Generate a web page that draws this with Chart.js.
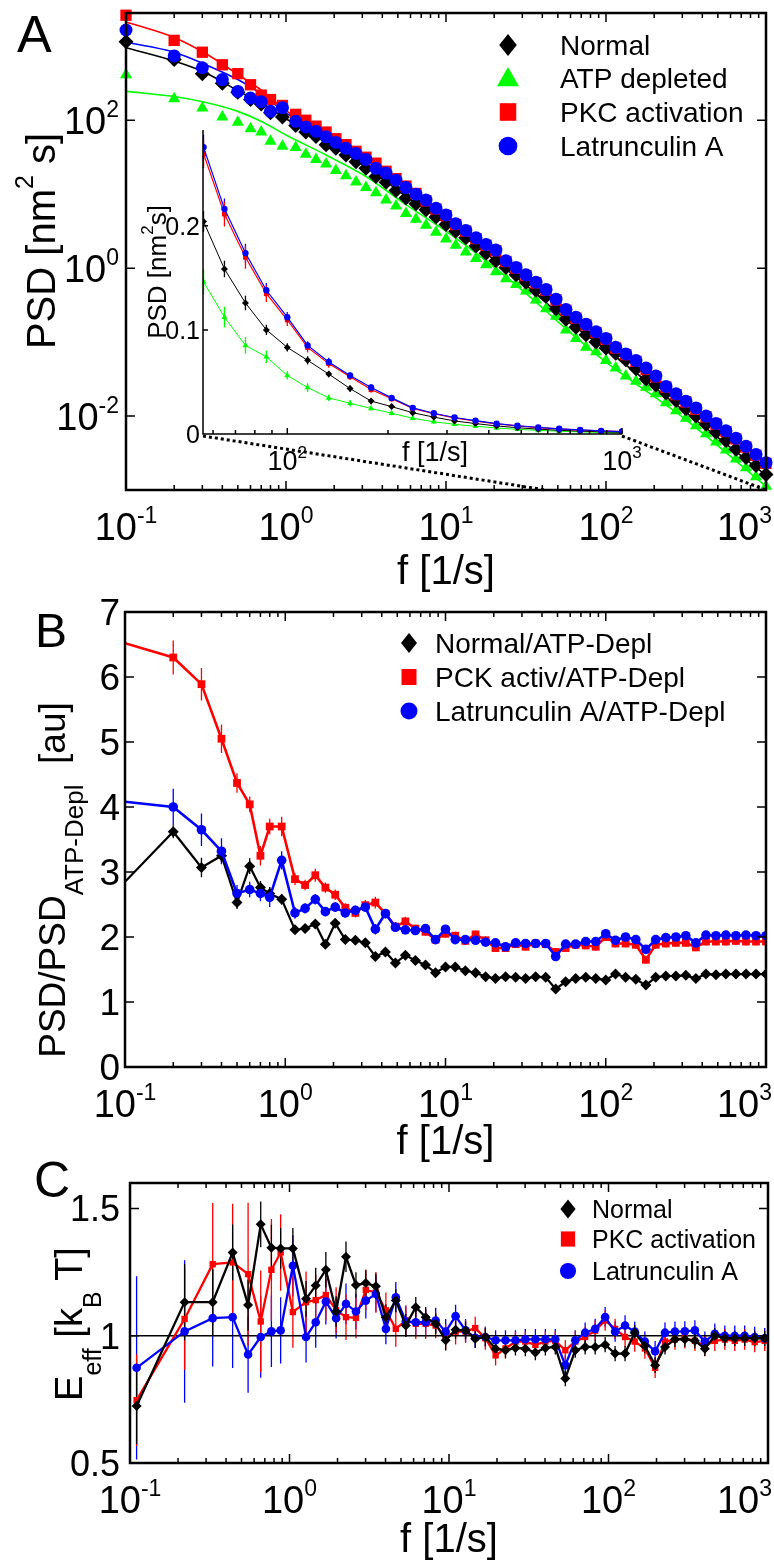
<!DOCTYPE html>
<html>
<head>
<meta charset="utf-8">
<script src="https://cdn.jsdelivr.net/npm/chart.js@4.4.1/dist/chart.umd.min.js"></script>
<style>
  body { margin: 0; background: #fff; }
  #wrap { position: relative; width: 774px; height: 1563px; }
  #wrap canvas { position: absolute; left: 0; top: 0; }
</style>
</head>
<body>
<div id="wrap">
  <canvas id="cA" width="774" height="1563"></canvas>
  <canvas id="cIn" width="774" height="1563"></canvas>
  <canvas id="cB" width="774" height="1563"></canvas>
  <canvas id="cC" width="774" height="1563"></canvas>
</div>
<script>
// ---------- data ----------
// frequencies [1/s] of the spectra (panels A and B)
const freq = [0.1, 0.2, 0.3, 0.4, 0.5, 0.6, 0.7, 0.8, 0.95,
  1.15, 1.33, 1.54, 1.78, 2.05, 2.37, 2.74, 3.16, 3.65, 4.22, 4.87, 5.62, 6.49, 7.50, 8.66, 10.0,
  11.5, 13.3, 15.4, 17.8, 20.5, 23.7, 27.4, 31.6, 36.5, 42.2, 48.7, 56.2, 64.9, 75.0, 86.6, 100,
  115, 133, 154, 178, 205, 237, 274, 316, 365, 422, 487, 562, 649, 750, 866, 1000];

// panel A: log10 of PSD [nm^2 s] (and the inset for f > 56)
const normalLog = [3.06, 2.82, 2.63, 2.50, 2.38, 2.28, 2.22, 2.10, 2.045,
  1.93, 1.84, 1.78, 1.67, 1.62, 1.53, 1.44, 1.35, 1.24, 1.16, 1.05, 0.95, 0.87, 0.79, 0.69, 0.59,
  0.50, 0.41, 0.30, 0.20, 0.10, 0.01, -0.09, -0.19, -0.30, -0.38, -0.55, -0.69, -0.80, -0.90, -1.00, -1.08,
  -1.15, -1.24, -1.36, -1.50, -1.58, -1.69, -1.79, -1.90, -2.00, -2.11, -2.22, -2.33, -2.45, -2.56, -2.67, -2.79];
const atpLog = [2.615, 2.29, 2.167, 2.045, 1.973, 1.884, 1.84, 1.717, 1.65,
  1.63, 1.54, 1.47, 1.41, 1.32, 1.25, 1.165, 1.09, 1.02, 0.92, 0.84, 0.74, 0.66, 0.58, 0.485, 0.395,
  0.31, 0.22, 0.13, 0.045, -0.05, -0.145, -0.22, -0.31, -0.43, -0.55, -0.65, -0.835, -0.95, -1.07, -1.13, -1.25,
  -1.35, -1.46, -1.53, -1.61, -1.70, -1.82, -1.93, -2.03, -2.13, -2.24, -2.35, -2.46, -2.58, -2.70, -2.82, -2.95];
const pkcLog = [3.42, 3.08, 2.92, 2.75, 2.63, 2.48, 2.34, 2.28, 2.20,
  2.08, 2.00, 1.92, 1.84, 1.75, 1.67, 1.58, 1.50, 1.42, 1.31, 1.21, 1.11, 1.01, 0.91, 0.80, 0.71,
  0.59, 0.50, 0.40, 0.31, 0.235, 0.09, 0.00, -0.10, -0.20, -0.30, -0.43, -0.57, -0.675, -0.77, -0.87, -0.96,
  -1.08, -1.17, -1.26, -1.37, -1.47, -1.61, -1.71, -1.81, -1.91, -2.01, -2.11, -2.21, -2.31, -2.42, -2.53, -2.64];
const latLog = [3.22, 2.87, 2.71, 2.55, 2.39, 2.30, 2.25, 2.12, 2.17,
  1.985, 1.91, 1.85, 1.776, 1.70, 1.62, 1.55, 1.47, 1.35, 1.285, 1.19, 1.09, 1.00, 0.92, 0.81, 0.72,
  0.60, 0.51, 0.41, 0.32, 0.245, 0.10, 0.01, -0.09, -0.19, -0.29, -0.42, -0.56, -0.665, -0.76, -0.86, -0.95,
  -1.07, -1.16, -1.25, -1.35, -1.46, -1.60, -1.70, -1.80, -1.89, -2.00, -2.10, -2.20, -2.30, -2.41, -2.52, -2.63];

// panel A fit curves (log10 PSD)
const fitFreq = [0.1, 0.2, 0.316, 0.5, 0.708, 1, 1.78, 3.16, 5.62, 10, 17.8, 31.6, 56.2, 100, 316, 1000];
const normalFitLog = [2.98, 2.80, 2.64, 2.40, 2.22, 2.02, 1.70, 1.37, 0.97, 0.60, 0.20, -0.23, -0.70, -1.10, -1.95, -2.80];
const atpFitLog = [2.39, 2.32, 2.24, 2.12, 1.98, 1.80, 1.53, 1.24, 0.86, 0.50, 0.10, -0.34, -0.82, -1.27, -2.05, -2.95];
const pkcFitLog = [3.33, 3.12, 2.90, 2.62, 2.40, 2.13, 1.81, 1.48, 1.10, 0.71, 0.29, -0.12, -0.56, -0.97, -1.82, -2.65];
const latFitLog = [3.055, 2.92, 2.75, 2.55, 2.35, 2.10, 1.80, 1.48, 1.10, 0.72, 0.30, -0.11, -0.55, -0.96, -1.81, -2.64];

// inset: the same spectra above 56 1/s on a linear axis, with error bars
const insetFrom = 36;
const insetErrNormal = [0.010, 0.008, 0.007, 0.005, 0.004, 0.004, 0.003, 0.003, 0.003, 0.002, 0.002, 0.002, 0.002, 0.002, 0.002, 0.001, 0.001, 0.001, 0.001, 0.001, 0.001];
const insetErrAtp = [0.012, 0.010, 0.008, 0.006, 0.004, 0.004, 0.003, 0.003, 0.002, 0.002, 0.002, 0.002, 0.002, 0.001, 0.001, 0.001, 0.001, 0.001, 0.001, 0.001, 0.001];
const insetErrPkc = [0.014, 0.012, 0.011, 0.008, 0.006, 0.005, 0.004, 0.003, 0.003, 0.003, 0.002, 0.002, 0.002, 0.002, 0.002, 0.002, 0.001, 0.001, 0.001, 0.001, 0.001];
const insetErrLat = [0.012, 0.010, 0.009, 0.007, 0.005, 0.004, 0.004, 0.003, 0.003, 0.002, 0.002, 0.002, 0.002, 0.002, 0.002, 0.001, 0.001, 0.001, 0.001, 0.001, 0.001];
const zoomLinkF = [42, 1000];

// panel B: PSD ratios to the ATP-depleted spectrum
const normRatio = [2.85, 3.62, 3.07, 3.25, 2.53, 3.09, 2.76, 2.67, 2.58,
  2.11, 2.13, 2.20, 1.89, 2.21, 1.96, 1.95, 1.91, 1.70, 1.77, 1.60, 1.72, 1.64, 1.57, 1.45, 1.54,
  1.54, 1.48, 1.45, 1.39, 1.36, 1.39, 1.38, 1.36, 1.39, 1.38, 1.20, 1.31, 1.36, 1.38, 1.36, 1.34,
  1.43, 1.38, 1.35, 1.26, 1.38, 1.40, 1.40, 1.41, 1.36, 1.43, 1.42, 1.43, 1.43, 1.43, 1.43, 1.43];
const pkcRatio = [6.52, 6.30, 5.89, 5.05, 4.37, 4.04, 3.25, 3.70, 3.70,
  2.89, 2.80, 2.95, 2.76, 2.65, 2.45, 2.37, 2.49, 2.53, 2.36, 2.16, 2.24, 2.13, 2.08, 1.96, 2.05,
  2.02, 1.94, 2.04, 1.95, 1.83, 1.83, 1.89, 1.85, 1.90, 1.89, 1.77, 1.83, 1.88, 1.87, 1.85, 2.00,
  1.90, 1.90, 1.88, 1.65, 1.88, 1.90, 1.91, 1.91, 1.84, 1.93, 1.93, 1.93, 1.94, 1.93, 1.93, 1.93];
const latRatio = [4.08, 4.00, 3.65, 3.32, 2.67, 2.73, 2.67, 2.61, 3.18,
  2.37, 2.44, 2.58, 2.39, 2.46, 2.37, 2.41, 2.46, 2.12, 2.36, 2.15, 2.11, 2.10, 2.13, 1.96, 2.12,
  1.96, 1.96, 1.95, 1.92, 1.91, 1.85, 1.91, 1.90, 1.90, 1.90, 1.70, 1.89, 1.89, 1.93, 1.93, 2.05,
  1.95, 2.00, 1.96, 1.81, 1.96, 1.99, 2.00, 2.02, 1.91, 2.03, 2.02, 2.03, 2.02, 2.03, 2.02, 2.02];
const normRatioErr = [0, 0.10, 0.15, 0.10, 0.10, 0.12, 0.10, 0.10, 0.08,
  0.06, 0.06, 0.06, 0.06, 0.06, 0.05, 0.05, 0.05, 0.05, 0.05, 0.05, 0.05, 0.04, 0.04, 0.04, 0.04,
  0.04, 0.04, 0.04, 0.04, 0.04, 0.04, 0.04, 0.04, 0.04, 0.04, 0.04, 0.04, 0.04, 0.04, 0.04, 0.04,
  0.04, 0.04, 0.04, 0.04, 0.04, 0.04, 0.04, 0.04, 0.04, 0.04, 0.04, 0.04, 0.04, 0.04, 0.04, 0.04];
const pkcRatioErr = [0, 0.26, 0.25, 0.22, 0.15, 0.12, 0.15, 0.12, 0.15,
  0.09, 0.08, 0.10, 0.08, 0.08, 0.07, 0.07, 0.08, 0.09, 0.07, 0.07, 0.07, 0.06, 0.06, 0.06, 0.06,
  0.06, 0.06, 0.06, 0.06, 0.06, 0.06, 0.06, 0.06, 0.06, 0.06, 0.06, 0.06, 0.06, 0.06, 0.06, 0.06,
  0.06, 0.06, 0.06, 0.06, 0.06, 0.06, 0.06, 0.06, 0.06, 0.06, 0.06, 0.06, 0.06, 0.06, 0.06, 0.06];
const latRatioErr = [0, 0.28, 0.25, 0.20, 0.13, 0.12, 0.12, 0.15, 0.14,
  0.09, 0.08, 0.08, 0.07, 0.07, 0.07, 0.07, 0.07, 0.08, 0.07, 0.06, 0.06, 0.06, 0.06, 0.06, 0.06,
  0.05, 0.05, 0.05, 0.05, 0.05, 0.05, 0.05, 0.05, 0.05, 0.05, 0.05, 0.05, 0.05, 0.05, 0.05, 0.05,
  0.05, 0.05, 0.05, 0.05, 0.05, 0.05, 0.05, 0.05, 0.05, 0.05, 0.05, 0.05, 0.05, 0.05, 0.05, 0.05];

// panel C: effective energy [kB T]
const freqC = [0.11, 0.22, 0.33, 0.44, 0.55, 0.66, 0.77, 0.88, 1.05,
  1.27, 1.46, 1.69, 1.96, 2.26, 2.61, 3.01, 3.48, 4.02, 4.64, 5.36, 6.19, 7.14, 8.25, 9.53, 11.0,
  12.7, 14.6, 16.9, 19.6, 22.6, 26.1, 30.1, 34.8, 40.2, 46.4, 53.6, 61.9, 71.4, 82.5, 95.3, 110,
  127, 146, 169, 196, 226, 261, 301, 348, 402, 464, 536, 619, 714, 825, 953];
const normE = [0.724, 1.132, 1.132, 1.327, 1.121, 1.4375, 1.346, 1.343, 1.343,
  1.145, 1.197, 1.259, 1.095, 1.31, 1.199, 1.207, 1.194, 1.073, 1.138, 1.04, 1.112, 1.073, 1.047, 0.982, 1.023,
  1.021, 0.988, 0.995, 0.949, 0.943, 0.952, 0.949, 0.934, 0.952, 0.956, 0.832, 0.943, 0.956, 0.956, 0.965, 0.93,
  0.93, 1.012, 0.96, 0.884, 0.956, 0.986, 0.986, 0.98, 0.949, 1.0, 0.99, 0.99, 0.99, 0.99, 0.99];
const pkcE = [0.747, 1.066, 1.281, 1.288, 1.242, 1.056, 1.259, 1.327, 1.093,
  1.132, 1.14, 1.16, 1.10, 1.073, 1.07, 1.18, 1.17, 1.10, 1.027, 1.06, 1.047, 1.047, 1.04, 0.995, 1.016,
  1.016, 1.03, 0.99, 0.923, 0.95, 0.977, 0.977, 0.964, 0.977, 0.98, 0.943, 0.977, 0.995, 1.02, 1.06, 1.027,
  0.995, 0.977, 0.95, 0.874, 0.977, 0.985, 0.99, 0.98, 0.96, 0.98, 0.985, 0.98, 0.985, 0.975, 0.98];
const latE = [0.874, 1.017, 1.069, 1.073, 0.926, 0.995, 1.017, 1.021, 1.275,
  0.995, 1.053, 1.134, 1.069, 1.125, 1.095, 1.138, 1.164, 1.027, 1.151, 1.056, 1.053, 1.053, 1.06, 1.016, 1.077,
  1.021, 0.992, 0.995, 0.982, 0.982, 0.982, 0.986, 0.986, 0.986, 0.986, 0.884, 0.982, 1.012, 1.027, 1.073, 1.016,
  1.04, 1.016, 0.977, 0.939, 1.012, 1.016, 1.017, 1.021, 0.977, 1.008, 1.0, 1.0, 1.0, 0.995, 0.99];
const normEErr = [0.15, 0.15, 0.13, 0.11, 0.10, 0.09, 0.09, 0.08, 0.08,
  0.07, 0.07, 0.07, 0.06, 0.06, 0.05, 0.05, 0.05, 0.05, 0.045, 0.045, 0.04, 0.04, 0.04, 0.04, 0.035,
  0.035, 0.035, 0.035, 0.03, 0.03, 0.03, 0.03, 0.03, 0.03, 0.03, 0.03, 0.03, 0.03, 0.03, 0.03, 0.03,
  0.03, 0.03, 0.03, 0.03, 0.03, 0.03, 0.03, 0.03, 0.03, 0.03, 0.03, 0.03, 0.03, 0.03, 0.03];
const pkcEErr = [0.18, 0.20, 0.24, 0.23, 0.28, 0.20, 0.20, 0.15, 0.14,
  0.12, 0.10, 0.10, 0.09, 0.09, 0.08, 0.08, 0.08, 0.07, 0.07, 0.06, 0.06, 0.06, 0.05, 0.05, 0.05,
  0.045, 0.045, 0.045, 0.04, 0.04, 0.04, 0.04, 0.04, 0.04, 0.04, 0.04, 0.04, 0.04, 0.04, 0.04, 0.04,
  0.04, 0.04, 0.04, 0.04, 0.04, 0.04, 0.04, 0.04, 0.04, 0.04, 0.04, 0.04, 0.04, 0.04, 0.04];
const latEErr = [0.36, 0.28, 0.19, 0.20, 0.15, 0.16, 0.14, 0.13, 0.12,
  0.10, 0.10, 0.09, 0.08, 0.08, 0.07, 0.07, 0.07, 0.06, 0.06, 0.06, 0.05, 0.05, 0.05, 0.05, 0.045,
  0.045, 0.04, 0.04, 0.04, 0.04, 0.04, 0.04, 0.04, 0.04, 0.04, 0.04, 0.04, 0.04, 0.04, 0.04, 0.04,
  0.04, 0.04, 0.04, 0.04, 0.04, 0.04, 0.04, 0.04, 0.04, 0.04, 0.04, 0.04, 0.04, 0.04, 0.04];

// tick labels
const decadeTicks = [0.1, 1, 10, 100, 1000];
const decadeExp = ['-1', '0', '1', '2', '3'];
const psdTicks = [0.01, 1, 100];
const psdExp = ['-2', '0', '2'];
const ratioTicks = [0, 1, 2, 3, 4, 5, 6, 7];
const effTicks = [0.5, 1, 1.5];
const effLabels = ['0.5', '1', '1.5'];
const insetYTicks = [0, 0.1, 0.2];
const insetYLabels = ['0', '0.1', '0.2'];
const insetXTicks = [100, 1000];
const insetXExp = ['2', '3'];

const seriesA = ['Normal', 'ATP depleted', 'PKC activation', 'Latrunculin A'];
const seriesB = ['Normal/ATP-Depl', 'PCK activ/ATP-Depl', 'Latrunculin A/ATP-Depl'];
const seriesC = ['Normal', 'PKC activation', 'Latrunculin A'];

// ---------- helpers ----------
const BLACK = '#000000', GREEN = '#00ff00', RED = '#ff0000', BLUE = '#0000ff';
const FAM = '"Liberation Sans", Arial, Helvetica, sans-serif';
const font = px => px + 'px ' + FAM;

const minorTicks = [];
[0.1, 1, 10, 100].forEach(d => { for (let m = 2; m <= 9; m++) minorTicks.push(m * d); });

function pts(xs, ys) { return xs.map((x, i) => ({ x: x, y: ys[i] })); }
function logPts(xs, ys) { return xs.map((x, i) => ({ x: x, y: Math.pow(10, ys[i]) })); }

// text made of pieces [text, size, shift]; shift > 0 moves down (subscript)
function rich(ctx, pieces, x, y, align) {
  let w = 0;
  pieces.forEach(p => { ctx.font = font(p[1]); w += ctx.measureText(p[0]).width; });
  let cx = align === 'center' ? x - w / 2 : align === 'right' ? x - w : x;
  pieces.forEach(p => {
    ctx.font = font(p[1]);
    ctx.fillText(p[0], cx, y + (p[2] || 0));
    cx += ctx.measureText(p[0]).width;
  });
  return w;
}
function richWidth(ctx, pieces) {
  let w = 0;
  pieces.forEach(p => { ctx.font = font(p[1]); w += ctx.measureText(p[0]).width; });
  return w;
}
function rotated(ctx, pieces, x, cy) {
  ctx.save();
  ctx.translate(x, cy);
  ctx.rotate(-Math.PI / 2);
  rich(ctx, pieces, 0, 0, 'center');
  ctx.restore();
}

function marker(ctx, style, x, y, r, color) {
  ctx.fillStyle = color;
  ctx.beginPath();
  if (style === 'circle') ctx.arc(x, y, r * 0.85, 0, Math.PI * 2);
  else if (style === 'rect') ctx.rect(x - r * 0.75, y - r * 0.8, r * 1.5, r * 1.6);
  else if (style === 'rectRot') {
    ctx.moveTo(x, y - r); ctx.lineTo(x + r * 0.8, y); ctx.lineTo(x, y + r); ctx.lineTo(x - r * 0.8, y);
  } else if (style === 'triangle') {
    ctx.moveTo(x, y - r); ctx.lineTo(x + r, y + r * 0.75); ctx.lineTo(x - r, y + r * 0.75);
  }
  ctx.closePath();
  ctx.fill();
}

function legend(chart, idx, mx, tx, ys, size, r) {
  const ctx = chart.ctx;
  ctx.save();
  idx.forEach((di, i) => {
    const ds = chart.data.datasets[di];
    marker(ctx, ds.pointStyle, mx, ys[i], r, ds.borderColor);
    ctx.fillStyle = '#000';
    ctx.font = font(size);
    ctx.textBaseline = 'alphabetic';
    ctx.fillText(ds.label, tx, ys[i] + size * 0.36);
  });
  ctx.restore();
}

function frame(chart, xMajor, xMinor, yMajor) {
  const ctx = chart.ctx, a = chart.chartArea, xs = chart.scales.x, ys = chart.scales.y;
  ctx.save();
  ctx.strokeStyle = '#000';
  ctx.lineWidth = 1.5;
  ctx.beginPath();
  xMajor.forEach(v => {
    const p = xs.getPixelForValue(v);
    ctx.moveTo(p, a.bottom); ctx.lineTo(p, a.bottom - 9);
    ctx.moveTo(p, a.top); ctx.lineTo(p, a.top + 9);
  });
  xMinor.forEach(v => {
    const p = xs.getPixelForValue(v);
    ctx.moveTo(p, a.bottom); ctx.lineTo(p, a.bottom - 5);
    ctx.moveTo(p, a.top); ctx.lineTo(p, a.top + 5);
  });
  yMajor.forEach(v => {
    const p = ys.getPixelForValue(v);
    ctx.moveTo(a.left, p); ctx.lineTo(a.left + 9, p);
    ctx.moveTo(a.right, p); ctx.lineTo(a.right - 9, p);
  });
  ctx.stroke();
  ctx.lineWidth = 2.5;
  ctx.strokeRect(a.left, a.top, a.right - a.left, a.bottom - a.top);
  ctx.restore();
}

function xPowLabels(chart, ticks, exps, base, big, small) {
  const ctx = chart.ctx, xs = chart.scales.x, a = chart.chartArea;
  ctx.save();
  ctx.fillStyle = '#000';
  ticks.forEach((v, i) => {
    const pieces = [['10', big], [exps[i], small, -big * 0.45]];
    const w = richWidth(ctx, pieces);
    let cx = xs.getPixelForValue(v);
    if (cx + w / 2 > 772) cx = 772 - w / 2;
    rich(ctx, pieces, cx, a.bottom + base, 'center');
  });
  ctx.restore();
}

function xTitle(chart, offset) {
  const ctx = chart.ctx, a = chart.chartArea;
  ctx.save();
  ctx.fillStyle = '#000';
  ctx.font = font(40);
  ctx.textAlign = 'center';
  ctx.fillText('f [1/s]', (a.left + a.right) / 2, a.bottom + offset);
  ctx.restore();
}

function panelLetter(ctx, ch, x, y, size) {
  ctx.save();
  ctx.fillStyle = '#000';
  ctx.font = font(size);
  ctx.fillText(ch, x, y);
  ctx.restore();
}

// vertical error bars from dataset.errors
const errorBars = {
  id: 'errorBars',
  beforeDatasetsDraw(chart) {
    const ctx = chart.ctx, xs = chart.scales.x, ys = chart.scales.y, a = chart.chartArea;
    ctx.save();
    ctx.beginPath();
    ctx.rect(a.left - 2, a.top, a.right - a.left + 4, a.bottom - a.top);
    ctx.clip();
    chart.data.datasets.slice().reverse().forEach(ds => {
      if (!ds.errors) return;
      ctx.strokeStyle = ds.borderColor;
      ctx.lineWidth = ds.errWidth || 1.3;
      ctx.beginPath();
      ds.data.forEach((p, i) => {
        const e = ds.errors[i];
        if (!e) return;
        const px = xs.getPixelForValue(p.x);
        ctx.moveTo(px, ys.getPixelForValue(p.y - e));
        ctx.lineTo(px, ys.getPixelForValue(p.y + e));
      });
      ctx.stroke();
    });
    ctx.restore();
  }
};

function markerSet(label, data, color, style, r, order) {
  return {
    label, data, showLine: false, borderColor: color, backgroundColor: color,
    pointStyle: style, pointRadius: r, pointBorderWidth: 0, pointBackgroundColor: color,
    order, clip: false
  };
}
function fitSet(data, color, order) {
  return {
    label: '', data, borderColor: color, borderWidth: 1.6, pointRadius: 0,
    cubicInterpolationMode: 'monotone', order
  };
}
function lineSet(label, data, color, style, r, width, order, errors, hideFirst) {
  return {
    label, data, borderColor: color, backgroundColor: color, borderWidth: width,
    pointStyle: style, pointBorderWidth: 0, pointBackgroundColor: color,
    pointRadius: hideFirst ? (c => c.dataIndex === 0 ? 0 : r) : r,
    order, errors
  };
}

const baseOptions = (pad, x, y) => ({
  responsive: false, animation: false, events: [],
  layout: { padding: pad },
  plugins: { legend: { display: false }, tooltip: { enabled: false } },
  scales: { x: Object.assign({ display: false }, x), y: Object.assign({ display: false }, y) }
});

// ---------- panel A ----------
const panelA = {
  id: 'panelA',
  afterDraw(chart) {
    const ctx = chart.ctx, ys = chart.scales.y;
    frame(chart, decadeTicks, minorTicks, psdTicks);
    xPowLabels(chart, decadeTicks, decadeExp, 50, 38, 23);
    ctx.save();
    ctx.fillStyle = '#000';
    psdTicks.forEach((v, i) => rich(ctx, [['10', 38], [psdExp[i], 23, -17]], 119, ys.getPixelForValue(v) + 14, 'right'));
    rotated(ctx, [['PSD [nm', 40], ['2', 25, -22], [' s]', 40]], 55, 241);
    ctx.restore();
    xTitle(chart, 94);
    panelLetter(ctx, 'A', 17, 52, 52);
    legend(chart, [0, 1, 2, 3], 508, 560, [45, 78, 112, 146], 28, 11);
  }
};

const chartA = new Chart(document.getElementById('cA'), {
  type: 'line',
  data: {
    datasets: [
      markerSet(seriesA[0], logPts(freq, normalLog), BLACK, 'rectRot', 7.5, 3),
      markerSet(seriesA[1], logPts(freq, atpLog), GREEN, 'triangle', 7, 4),
      markerSet(seriesA[2], logPts(freq, pkcLog), RED, 'rect', 8, 2),
      markerSet(seriesA[3], logPts(freq, latLog), BLUE, 'circle', 6.5, 1),
      fitSet(logPts(fitFreq, normalFitLog), BLACK, 11),
      fitSet(logPts(fitFreq, atpFitLog), GREEN, 12),
      fitSet(logPts(fitFreq, pkcFitLog), RED, 10),
      fitSet(logPts(fitFreq, latFitLog), BLUE, 9)
    ]
  },
  options: baseOptions({ left: 126, top: 13, right: 6, bottom: 1073 },
    { type: 'logarithmic', min: 0.1, max: 1000 },
    { type: 'logarithmic', min: 0.001, max: 2820 }),
  plugins: [panelA]
});

// ---------- inset of panel A ----------
const inFreq = freq.slice(insetFrom);
const linIn = logs => logs.slice(insetFrom).map(v => Math.pow(10, v));
const insetPlugin = {
  id: 'inset',
  afterDraw(chart) {
    const ctx = chart.ctx, a = chart.chartArea, xs = chart.scales.x, ys = chart.scales.y;
    ctx.save();
    ctx.strokeStyle = '#000';
    ctx.lineWidth = 1.5;
    ctx.beginPath();
    ctx.moveTo(a.left, a.top); ctx.lineTo(a.left, a.bottom); ctx.lineTo(a.right, a.bottom);
    insetYTicks.forEach(v => { const p = ys.getPixelForValue(v); ctx.moveTo(a.left, p); ctx.lineTo(a.left + 5, p); });
    insetXTicks.forEach(v => { const p = xs.getPixelForValue(v); ctx.moveTo(p, a.bottom); ctx.lineTo(p, a.bottom - 6); });
    minorTicks.filter(v => v > 56 && v < 1000).forEach(v => {
      const p = xs.getPixelForValue(v); ctx.moveTo(p, a.bottom); ctx.lineTo(p, a.bottom - 4);
    });
    ctx.stroke();
    // dotted links to the main axis
    const xa = chartA.scales.x, yb = chartA.chartArea.bottom;
    ctx.setLineDash([3, 3]);
    ctx.lineWidth = 3;
    ctx.beginPath();
    ctx.moveTo(a.left, a.bottom + 2); ctx.lineTo(xa.getPixelForValue(zoomLinkF[0]), yb);
    ctx.moveTo(a.right, a.bottom + 2); ctx.lineTo(xa.getPixelForValue(zoomLinkF[1]), yb);
    ctx.stroke();
    ctx.setLineDash([]);
    ctx.fillStyle = '#000';
    ctx.font = font(25);
    ctx.textAlign = 'right';
    insetYTicks.forEach((v, i) => ctx.fillText(insetYLabels[i], a.left - 3, ys.getPixelForValue(v) + 9));
    ctx.textAlign = 'left';
    insetXTicks.forEach((v, i) => rich(ctx, [['10', 27], [insetXExp[i], 17, -12]], xs.getPixelForValue(v), a.bottom + 36, 'center'));
    ctx.font = font(27);
    ctx.textAlign = 'center';
    ctx.fillText('f [1/s]', 435, a.bottom + 27);
    ctx.textAlign = 'left';
    rotated(ctx, [['PSD [nm', 26], ['2', 17, -13], ['s]', 26]], 166, 272);
    ctx.restore();
  }
};
new Chart(document.getElementById('cIn'), {
  type: 'line',
  data: {
    datasets: [
      lineSet(seriesA[0], pts(inFreq, linIn(normalLog)), BLACK, 'rectRot', 3.5, 1, 3, insetErrNormal),
      lineSet(seriesA[1], pts(inFreq, linIn(atpLog)), GREEN, 'triangle', 3.5, 1, 4, insetErrAtp),
      lineSet(seriesA[2], pts(inFreq, linIn(pkcLog)), RED, 'rect', 3.5, 1.2, 2, insetErrPkc),
      lineSet(seriesA[3], pts(inFreq, linIn(latLog)), BLUE, 'circle', 3.2, 1.2, 1, insetErrLat)
    ]
  },
  options: baseOptions({ left: 203, top: 130, right: 152, bottom: 1129 },
    { type: 'logarithmic', min: 56, max: 1000 },
    { type: 'linear', min: 0, max: 0.292 }),
  plugins: [errorBars, insetPlugin]
});

// ---------- panel B ----------
const panelB = {
  id: 'panelB',
  afterDraw(chart) {
    const ctx = chart.ctx, ys = chart.scales.y;
    frame(chart, decadeTicks, minorTicks, ratioTicks);
    xPowLabels(chart, decadeTicks, decadeExp, 50, 38, 23);
    ctx.save();
    ctx.fillStyle = '#000';
    ctx.font = font(37);
    ctx.textAlign = 'right';
    ratioTicks.forEach(v => ctx.fillText(String(v), 120, ys.getPixelForValue(v) + 13));
    ctx.textAlign = 'left';
    rotated(ctx, [['PSD/PSD', 37], ['ATP-Depl', 26, 18], ['  [au]', 37]], 65, 880);
    ctx.restore();
    xTitle(chart, 87);
    panelLetter(ctx, 'B', 35, 647, 48);
    legend(chart, [0, 1, 2], 409, 435, [643, 677, 711], 28, 10);
  }
};
new Chart(document.getElementById('cB'), {
  type: 'line',
  data: {
    datasets: [
      lineSet(seriesB[0], pts(freq, normRatio), BLACK, 'rectRot', 5.5, 2.2, 3, normRatioErr, true),
      lineSet(seriesB[1], pts(freq, pkcRatio), RED, 'rect', 5.5, 2.6, 2, pkcRatioErr, true),
      lineSet(seriesB[2], pts(freq, latRatio), BLUE, 'circle', 4.8, 2.6, 1, latRatioErr, true)
    ]
  },
  options: baseOptions({ left: 125, top: 612, right: 8, bottom: 496 },
    { type: 'logarithmic', min: 0.1, max: 1000 },
    { type: 'linear', min: 0, max: 7 }),
  plugins: [errorBars, panelB]
});

// ---------- panel C ----------
const panelC = {
  id: 'panelC',
  beforeDatasetsDraw(chart) {
    const ctx = chart.ctx, a = chart.chartArea, p = chart.scales.y.getPixelForValue(1);
    ctx.save();
    ctx.strokeStyle = '#000';
    ctx.lineWidth = 1.6;
    ctx.beginPath(); ctx.moveTo(a.left, p); ctx.lineTo(a.right, p); ctx.stroke();
    ctx.restore();
  },
  afterDraw(chart) {
    const ctx = chart.ctx, ys = chart.scales.y;
    frame(chart, decadeTicks, minorTicks, effTicks);
    xPowLabels(chart, decadeTicks, decadeExp, 50, 38, 23);
    ctx.save();
    ctx.fillStyle = '#000';
    ctx.font = font(36);
    ctx.textAlign = 'right';
    effTicks.forEach((v, i) => ctx.fillText(effLabels[i], 120, ys.getPixelForValue(v) + 13));
    ctx.textAlign = 'left';
    rotated(ctx, [['E', 38], ['eff', 25, 19], [' [k', 38], ['B', 25, 19], [' T]', 38]], 82, 1324);
    ctx.restore();
    xTitle(chart, 89);
    panelLetter(ctx, 'C', 34, 1197, 50);
    legend(chart, [0, 1, 2], 568, 592, [1209, 1239, 1271], 25, 9.5);
  }
};
new Chart(document.getElementById('cC'), {
  type: 'line',
  data: {
    datasets: [
      lineSet(seriesC[0], pts(freqC, normE), BLACK, 'rectRot', 5, 2.3, 1, normEErr),
      lineSet(seriesC[1], pts(freqC, pkcE), RED, 'rect', 4.5, 2.3, 3, pkcEErr),
      lineSet(seriesC[2], pts(freqC, latE), BLUE, 'circle', 4.3, 2.3, 2, latEErr)
    ]
  },
  options: baseOptions({ left: 130, top: 1183, right: 6, bottom: 100 },
    { type: 'logarithmic', min: 0.1, max: 1000 },
    { type: 'linear', min: 0.5, max: 1.6 }),
  plugins: [errorBars, panelC]
});
</script>
</body>
</html>
